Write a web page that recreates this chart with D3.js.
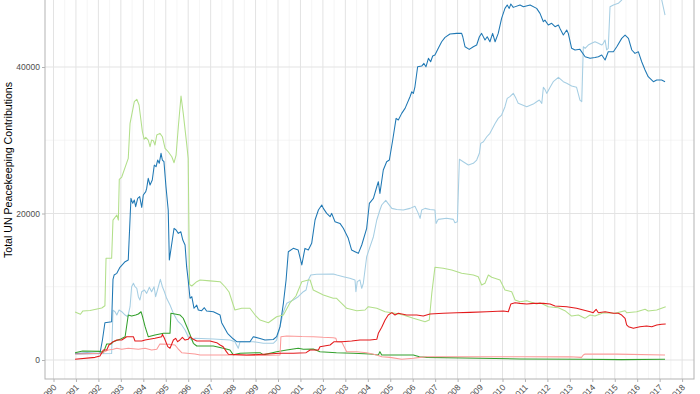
<!DOCTYPE html>
<html>
<head>
<meta charset="utf-8">
<script src="https://cdn.jsdelivr.net/npm/d3@7"></script>
<style>
  body { margin: 0; background: #fff; }
  svg { display: block; font-family: "Liberation Sans", Arial, sans-serif; }
</style>
</head>
<body>
<script>
// tick values
const yearTicks = d3.range(1990, 2019);
const yMajorTicks = [0, 20000, 40000];
const yMinorTicks = [10000, 30000, 50000];

// monthly-ish readings: [decimal year, contributions]
const lightBlue = [[1990.96, 800], [1991.5, 820], [1992.0, 850], [1992.59, 880], [1992.65, 6800], [1992.74, 6590], [1992.82, 6140], [1992.92, 6825], [1993.04, 6590], [1993.19, 6140], [1993.31, 5910], [1993.41, 7280], [1993.48, 10010], [1993.56, 10470], [1993.63, 10010], [1993.71, 9790], [1993.78, 8640], [1993.85, 8190], [1993.93, 9320], [1994.05, 9555], [1994.15, 9100], [1994.27, 9920], [1994.37, 9320], [1994.48, 10000], [1994.55, 8640], [1994.67, 10000], [1994.76, 11010], [1994.85, 10000], [1994.94, 9320], [1995.04, 8420], [1995.19, 7500], [1995.34, 6370], [1995.46, 5690], [1995.56, 5230], [1995.71, 4780], [1995.86, 4100], [1996.0, 3180], [1996.16, 2730], [1996.3, 2960], [1997.12, 2870], [1997.86, 2730], [1998.08, 2500], [1998.23, 1600], [1998.31, 2500], [1998.9, 2500], [1999.35, 2280], [1999.79, 2280], [1999.94, 2730], [2000.09, 4550], [2000.24, 6590], [2000.39, 7740], [2000.68, 8190], [2000.9, 8640], [2001.13, 9320], [2001.25, 9555], [2001.35, 10920], [2001.46, 11600], [2001.72, 11700], [2002.46, 11740], [2002.62, 11600], [2002.91, 11370], [2003.2, 11150], [2003.43, 10920], [2003.47, 9320], [2003.53, 10700], [2003.65, 10920], [2003.73, 9790], [2003.8, 10470], [2003.95, 14100], [2004.1, 15470], [2004.25, 16830], [2004.4, 19110], [2004.54, 20475], [2004.62, 21160], [2004.8, 21800], [2004.9, 21390], [2005.07, 20700], [2005.29, 20560], [2005.58, 20475], [2005.88, 20700], [2006.1, 21000], [2006.25, 20020], [2006.33, 19340], [2006.4, 20475], [2006.55, 20700], [2006.77, 20560], [2006.99, 20475], [2007.04, 18650], [2007.14, 19200], [2007.51, 19340], [2007.81, 19200], [2007.88, 18740], [2007.99, 18870], [2008.08, 27400], [2008.25, 27070], [2008.48, 26620], [2008.7, 26850], [2008.85, 27300], [2008.97, 28220], [2009.03, 29580], [2009.15, 29800], [2009.3, 30480], [2009.44, 30940], [2009.67, 32300], [2009.81, 32990], [2009.96, 33440], [2010.11, 34580], [2010.21, 35720], [2010.33, 35950], [2010.48, 36400], [2010.6, 35720], [2010.7, 35040], [2011.08, 34580], [2011.37, 34940], [2011.52, 35260], [2011.64, 35490], [2011.75, 35040], [2011.82, 37220], [2011.89, 36950], [2011.97, 36400], [2012.12, 37220], [2012.26, 37990], [2012.49, 38590], [2012.71, 37990], [2012.86, 37770], [2013.08, 37400], [2013.3, 37220], [2013.45, 35490], [2013.53, 35260], [2013.6, 42770], [2013.68, 42540], [2013.82, 43000], [2013.97, 43230], [2014.12, 43450], [2014.27, 43230], [2014.42, 43000], [2014.49, 43230], [2014.57, 43680], [2014.64, 42320], [2014.71, 42540], [2014.79, 48230], [2014.94, 48460], [2015.16, 48690], [2015.31, 49140], [2015.6, 50400], [2016.0, 51800], [2016.5, 51300], [2016.95, 50300], [2017.09, 49200], [2017.24, 47090]];

const darkBlue = [[1990.96, 900], [1991.5, 950], [1992.07, 900], [1992.18, 2730], [1992.29, 5090], [1992.59, 5230], [1992.65, 11000], [1992.7, 11600], [1992.82, 11830], [1992.96, 12650], [1993.19, 13420], [1993.33, 13650], [1993.45, 22070], [1993.53, 21390], [1993.6, 21840], [1993.66, 20930], [1993.75, 22070], [1993.84, 22300], [1993.93, 20840], [1994.0, 22520], [1994.11, 22980], [1994.15, 23430], [1994.22, 24800], [1994.3, 23890], [1994.4, 24570], [1994.49, 26620], [1994.57, 26390], [1994.64, 27300], [1994.71, 26850], [1994.79, 28220], [1994.85, 27300], [1994.92, 27070], [1995.01, 23650], [1995.11, 20475], [1995.16, 13650], [1995.37, 17980], [1995.46, 17750], [1995.56, 17290], [1995.67, 17510], [1995.76, 16380], [1995.86, 15700], [1995.93, 12740], [1996.0, 10920], [1996.08, 8420], [1996.16, 8640], [1996.26, 7060], [1996.38, 7500], [1996.45, 6825], [1996.6, 6730], [1996.72, 7140], [1996.82, 6690], [1997.12, 6590], [1997.42, 6140], [1997.49, 5100], [1997.75, 3640], [1998.0, 2900], [1998.16, 2500], [1998.75, 2500], [1998.9, 3180], [1999.2, 2950], [1999.42, 2730], [1999.79, 2800], [1999.94, 3180], [2000.09, 4550], [2000.24, 7740], [2000.36, 10920], [2000.46, 14780], [2000.68, 15240], [2000.9, 15010], [2001.06, 12970], [2001.2, 15240], [2001.35, 15010], [2001.5, 15930], [2001.65, 19110], [2001.8, 20475], [2001.95, 21160], [2002.02, 20700], [2002.17, 20020], [2002.32, 19560], [2002.39, 20020], [2002.54, 18870], [2002.76, 18650], [2002.91, 17980], [2003.13, 16610], [2003.28, 15010], [2003.43, 14780], [2003.58, 14560], [2003.73, 15700], [2003.95, 17980], [2004.07, 21390], [2004.25, 22070], [2004.4, 23650], [2004.47, 24340], [2004.54, 22750], [2004.69, 25935], [2004.84, 27070], [2004.96, 27300], [2005.11, 30030], [2005.26, 32990], [2005.36, 32760], [2005.51, 33670], [2005.66, 34350], [2005.88, 35940], [2005.96, 36620], [2006.03, 36400], [2006.1, 37300], [2006.22, 40030], [2006.4, 40130], [2006.5, 40490], [2006.59, 40030], [2006.7, 41180], [2006.8, 40720], [2006.89, 41500], [2006.99, 41630], [2007.14, 42550], [2007.29, 43450], [2007.44, 44050], [2007.66, 44500], [2007.96, 44590], [2008.18, 44590], [2008.23, 44130], [2008.33, 42770], [2008.52, 42410], [2008.7, 42770], [2008.85, 43000], [2008.97, 44130], [2009.07, 44590], [2009.22, 43680], [2009.32, 44130], [2009.44, 43450], [2009.56, 44590], [2009.67, 43450], [2009.81, 44590], [2009.96, 46640], [2010.11, 48000], [2010.21, 48460], [2010.3, 48000], [2010.37, 48600], [2010.48, 48140], [2010.78, 48460], [2010.93, 48230], [2011.23, 48460], [2011.52, 48000], [2011.67, 47320], [2011.82, 46180], [2011.89, 46400], [2012.04, 45730], [2012.19, 45960], [2012.34, 45500], [2012.49, 45730], [2012.56, 45270], [2012.71, 44360], [2012.86, 45050], [2012.93, 44590], [2013.08, 42550], [2013.23, 42320], [2013.45, 42410], [2013.68, 41400], [2013.9, 41180], [2014.12, 41300], [2014.27, 41400], [2014.42, 41630], [2014.57, 40950], [2014.71, 42090], [2014.94, 42090], [2015.09, 42770], [2015.31, 43910], [2015.46, 44360], [2015.61, 43910], [2015.76, 42320], [2015.9, 41860], [2016.05, 42090], [2016.2, 40720], [2016.35, 39590], [2016.49, 38670], [2016.72, 37990], [2016.87, 38220], [2017.09, 38220], [2017.24, 37990]];

const lightGreen = [[1990.96, 6550], [1991.2, 6250], [1991.31, 6700], [1991.63, 6750], [1992.15, 7100], [1992.29, 7400], [1992.34, 13900], [1992.59, 13900], [1992.65, 19100], [1992.82, 19800], [1992.89, 19100], [1992.93, 24670], [1993.04, 24980], [1993.33, 27530], [1993.41, 32310], [1993.6, 35260], [1993.71, 35590], [1993.81, 34810], [1993.96, 31160], [1994.04, 30130], [1994.11, 30400], [1994.22, 30030], [1994.3, 29120], [1994.37, 30030], [1994.45, 29930], [1994.52, 29350], [1994.6, 30710], [1994.74, 30940], [1994.85, 30480], [1994.97, 28900], [1995.11, 28430], [1995.27, 27750], [1995.37, 26930], [1995.46, 27980], [1995.56, 31850], [1995.68, 36040], [1995.78, 33670], [1995.93, 29580], [1996.0, 27500], [1996.06, 10300], [1996.16, 10100], [1996.38, 10690], [1996.53, 10920], [1996.97, 10800], [1997.42, 10690], [1997.64, 10000], [1997.82, 9280], [1998.08, 6825], [1998.38, 7060], [1998.75, 7060], [1998.98, 6140], [1999.2, 5460], [1999.57, 5090], [1999.94, 5910], [2000.24, 6140], [2000.53, 7780], [2000.8, 8740], [2001.06, 10690], [2001.35, 10920], [2001.43, 10920], [2001.57, 9555], [2002.02, 8870], [2002.46, 8420], [2002.61, 8420], [2003.06, 7060], [2003.51, 6730], [2003.88, 6825], [2004.02, 7275], [2004.4, 7060], [2004.77, 6590], [2005.21, 6370], [2005.58, 6140], [2006.03, 5690], [2006.55, 5230], [2006.74, 5460], [2006.85, 9100], [2006.99, 12650], [2007.36, 12520], [2007.74, 12285], [2008.18, 11830], [2008.7, 11600], [2008.92, 11370], [2009.07, 10240], [2009.22, 10470], [2009.37, 11600], [2009.52, 11290], [2009.89, 10920], [2010.11, 9555], [2010.41, 9320], [2010.56, 8190], [2010.78, 7960], [2011.08, 8090], [2011.52, 7640], [2011.67, 7820], [2012.04, 7275], [2012.49, 7140], [2012.78, 6730], [2013.08, 6000], [2013.38, 6140], [2013.67, 5690], [2013.9, 6140], [2014.12, 6000], [2014.49, 6460], [2015.01, 6370], [2015.46, 6730], [2015.53, 6460], [2015.98, 6590], [2016.35, 6920], [2016.49, 6690], [2016.87, 6825], [2017.27, 7275]];

const darkGreen = [[1990.96, 1000], [1991.3, 1230], [1992.07, 1180], [1992.22, 1000], [1992.37, 2180], [1992.56, 2180], [1992.66, 2500], [1992.96, 2820], [1993.19, 3180], [1993.33, 6140], [1993.48, 6000], [1993.66, 6140], [1993.78, 6280], [1993.9, 6590], [1993.96, 6000], [1994.08, 4550], [1994.22, 3180], [1994.52, 3410], [1994.9, 3640], [1995.19, 3640], [1995.23, 6370], [1995.64, 6140], [1995.78, 5700], [1996.0, 4100], [1996.23, 2280], [1996.38, 1910], [1997.12, 1910], [1997.56, 1600], [1997.86, 1365], [1998.01, 700], [1998.31, 910], [1999.2, 1000], [1999.35, 700], [1999.94, 1140], [2000.39, 1365], [2000.9, 1600], [2001.13, 1460], [2001.57, 1500], [2001.87, 1140], [2002.6, 1000], [2003.35, 910], [2004.1, 820], [2004.47, 680], [2004.54, 1140], [2004.62, 680], [2005.29, 680], [2006.03, 680], [2006.3, 450], [2006.62, 360], [2009.0, 230], [2010.78, 140], [2013.6, 100], [2015.3, 50], [2017.24, 100]];

const pink = [[1990.96, 820], [1992.15, 910], [1992.29, 1140], [1992.44, 1365], [1992.66, 1460], [1992.82, 1600], [1993.04, 1460], [1993.33, 1600], [1993.78, 1460], [1994.08, 1600], [1994.37, 1365], [1994.6, 1460], [1994.74, 2180], [1995.19, 2130], [1995.41, 2050], [1995.53, 1600], [1995.71, 1000], [1996.3, 820], [1996.53, 680], [1997.86, 680], [1999.35, 610], [2000.09, 680], [2000.13, 3180], [2000.39, 3280], [2001.06, 3200], [2001.57, 3180], [2002.0, 3100], [2002.46, 3050], [2002.58, 2960], [2002.62, 2500], [2002.84, 2450], [2003.06, 1140], [2003.5, 1140], [2003.95, 1000], [2004.4, 680], [2004.62, 450], [2004.99, 360], [2005.51, 100], [2006.03, 230], [2006.33, 360], [2006.62, 450], [2009.0, 450], [2011.0, 450], [2013.0, 430], [2013.52, 360], [2013.6, 680], [2013.68, 820], [2015.09, 800], [2017.24, 680]];

const red = [[1990.96, 100], [1991.85, 360], [1992.07, 550], [1992.22, 1365], [1992.37, 1365], [1992.47, 2050], [1992.66, 2500], [1992.82, 2730], [1993.04, 2730], [1993.26, 3180], [1993.56, 3180], [1993.63, 2590], [1993.93, 2600], [1994.08, 2730], [1994.52, 2960], [1994.82, 3180], [1994.85, 3500], [1994.94, 2960], [1995.09, 1820], [1995.19, 1600], [1995.34, 2730], [1995.44, 2960], [1995.53, 2500], [1995.63, 2730], [1995.74, 3090], [1995.86, 2730], [1996.0, 2820], [1996.08, 3180], [1996.23, 2820], [1996.38, 2590], [1996.97, 2590], [1997.27, 2370], [1997.42, 2050], [1997.56, 1820], [1997.7, 1140], [1997.79, 780], [1998.6, 680], [1999.35, 780], [2000.09, 910], [2000.68, 910], [2001.25, 1000], [2001.43, 1365], [2001.8, 1365], [2001.87, 1820], [2002.32, 2050], [2002.5, 2500], [2002.84, 2500], [2003.28, 2590], [2003.65, 2730], [2004.1, 2730], [2004.4, 2820], [2004.47, 3640], [2004.62, 4460], [2004.77, 5460], [2004.91, 6140], [2005.07, 6460], [2005.21, 6140], [2005.36, 6370], [2005.73, 6140], [2006.18, 6140], [2006.47, 6000], [2006.77, 6280], [2007.36, 6370], [2007.96, 6460], [2008.55, 6500], [2009.3, 6590], [2010.04, 6690], [2010.26, 6590], [2010.37, 7640], [2010.56, 7820], [2010.78, 7730], [2011.08, 7640], [2011.37, 7730], [2011.82, 7730], [2012.12, 7640], [2012.34, 7370], [2012.86, 7280], [2013.3, 7060], [2013.6, 6825], [2013.9, 6590], [2014.04, 6460], [2014.17, 6920], [2014.27, 6460], [2014.57, 6590], [2014.94, 6370], [2015.16, 6370], [2015.31, 6140], [2015.46, 5690], [2015.53, 4780], [2015.61, 4550], [2015.83, 4320], [2016.12, 4550], [2016.42, 4640], [2016.65, 4550], [2016.87, 4780], [2017.09, 4870], [2017.27, 4910]];

const width = 700;
const height = 394;
// panel runs above the picture: ggplot's 5% expansion of the data range
const panel = { left: 45, right: 694, top: -39, bottom: 379 };

const series = [
    { values: lightBlue, color: "#a6cee3" },
    { values: darkBlue, color: "#1f78b4" },
    { values: lightGreen, color: "#b2df8a" },
    { values: darkGreen, color: "#33a02c" },
    { values: pink, color: "#fb9a99" },
    { values: red, color: "#e31a1c" }
];

let x = d3.scaleLinear()
    .domain([1990, 2018])
    .range([53.5, 682.1]);

let y = d3.scaleLinear()
    .domain([0, 40000])
    .range([360, 67]);

let svg = d3.select("body").append("svg")
    .attr("width", width)
    .attr("height", height)

// grid
let grid = svg.append("g")
grid.selectAll(".yminor")
    .data(yMinorTicks)
    .enter()
    .append("line")
    .attr("x1", panel.left).attr("x2", panel.right)
    .attr("y1", d => y(d)).attr("y2", d => y(d))
    .attr("stroke", "#efefef")
    .attr("stroke-width", 0.6)
grid.selectAll(".xminor")
    .data(yearTicks.slice(0, -1).map(d => d + 0.5))
    .enter()
    .append("line")
    .attr("x1", d => x(d)).attr("x2", d => x(d))
    .attr("y1", panel.top).attr("y2", panel.bottom)
    .attr("stroke", "#efefef")
    .attr("stroke-width", 0.6)
grid.selectAll(".ymajor")
    .data(yMajorTicks)
    .enter()
    .append("line")
    .attr("x1", panel.left).attr("x2", panel.right)
    .attr("y1", d => y(d)).attr("y2", d => y(d))
    .attr("stroke", "#e3e3e3")
    .attr("stroke-width", 1)
grid.selectAll(".xmajor")
    .data(yearTicks)
    .enter()
    .append("line")
    .attr("x1", d => x(d)).attr("x2", d => x(d))
    .attr("y1", panel.top).attr("y2", panel.bottom)
    .attr("stroke", "#e3e3e3")
    .attr("stroke-width", 1)

// lines
let line = d3.line()
    .x(d => x(d[0]))
    .y(d => y(d[1]));

svg.append("g")
    .selectAll("path")
    .data(series)
    .enter()
    .append("path")
    .attr("d", d => line(d.values))
    .attr("fill", "none")
    .attr("stroke", d => d.color)
    .attr("stroke-width", 1.05)
    .attr("stroke-linejoin", "round")

// panel border
svg.append("rect")
    .attr("x", panel.left)
    .attr("y", panel.top)
    .attr("width", panel.right - panel.left)
    .attr("height", panel.bottom - panel.top)
    .attr("fill", "none")
    .attr("stroke", "#b3b3b3")
    .attr("stroke-width", 1)

// axes
let yAxis = svg.append("g")
    .attr("transform", "translate(" + panel.left + ",0)")
    .call(d3.axisLeft(y).tickValues(yMajorTicks).tickSize(3).tickPadding(2).tickFormat(d3.format("d")))
yAxis.select(".domain").remove()
yAxis.selectAll("line").attr("stroke", "#b3b3b3")
yAxis.selectAll("text")
    .attr("fill", "#4d4d4d")
    .attr("font-size", "8.5px")
    .attr("font-family", "Liberation Sans, Arial, sans-serif")

let xAxis = svg.append("g")
    .attr("transform", "translate(0," + panel.bottom + ")")
    .call(d3.axisBottom(x).tickValues(yearTicks).tickSize(3).tickFormat(d3.format("d")))
xAxis.select(".domain").remove()
xAxis.selectAll("line").attr("stroke", "#b3b3b3")
xAxis.selectAll("text")
    .attr("fill", "#4d4d4d")
    .attr("font-size", "8.5px")
    .attr("font-family", "Liberation Sans, Arial, sans-serif")
    .attr("text-anchor", "end")
    .attr("dy", null)
    .attr("y", 0)
    .attr("transform", "translate(3,9) rotate(-45)")

// axis title, centred on the (partly hidden) panel
svg.append("text")
    .attr("transform", "translate(12," + (panel.top + panel.bottom) / 2 + ") rotate(-90)")
    .attr("text-anchor", "middle")
    .attr("font-size", "10.6px")
    .attr("fill", "#000")
    .text("Total UN Peacekeeping Contributions")
</script>
</body>
</html>
